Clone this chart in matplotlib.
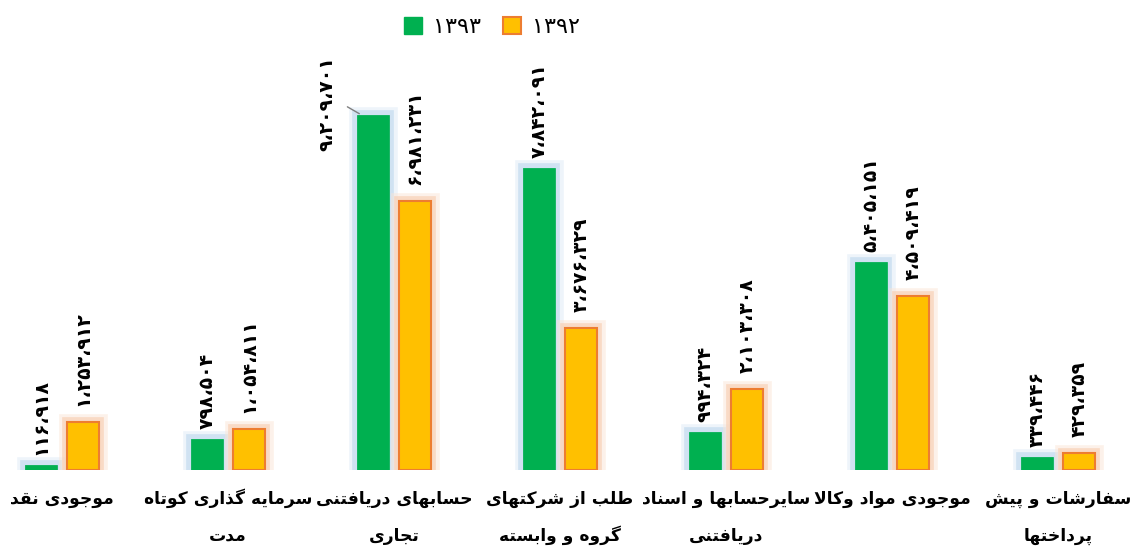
import matplotlib
matplotlib.use("Agg")
import matplotlib.pyplot as plt
import matplotlib.patheffects as pe
from matplotlib.patches import Patch
import numpy as np

# داده ها
categories = [
    "موجودی نقد",
    "سرمایه گذاری کوتاه\nمدت",
    "حسابهای دریافتنی\nتجاری",
    "طلب از شرکتهای\nگروه و وابسته",
    "سایرحسابها و اسناد\nدریافتنی",
    "موجودی مواد وکالا",
    "سفارشات و پیش\nپرداختها",
]
values_1393 = [116918, 798504, 9209701, 7842091, 994324, 5405151, 339446]
values_1392 = [1253912, 1054811, 6981231, 3676329, 2103308, 4509419, 429359]
series_names = ["۱۳۹۳", "۱۳۹۲"]

# شکل دادن حروف فارسی (matplotlib خودش اتصال حروف را انجام نمی دهد)
FORMS = {
    "ا": ("\uFE8D", "\uFE8E", None, None),
    "ب": ("\uFE8F", "\uFE90", "\uFE91", "\uFE92"),
    "پ": ("\uFB56", "\uFB57", "\uFB58", "\uFB59"),
    "ت": ("\uFE95", "\uFE96", "\uFE97", "\uFE98"),
    "ج": ("\uFE9D", "\uFE9E", "\uFE9F", "\uFEA0"),
    "ح": ("\uFEA1", "\uFEA2", "\uFEA3", "\uFEA4"),
    "خ": ("\uFEA5", "\uFEA6", "\uFEA7", "\uFEA8"),
    "د": ("\uFEA9", "\uFEAA", None, None),
    "ذ": ("\uFEAB", "\uFEAC", None, None),
    "ر": ("\uFEAD", "\uFEAE", None, None),
    "ز": ("\uFEAF", "\uFEB0", None, None),
    "س": ("\uFEB1", "\uFEB2", "\uFEB3", "\uFEB4"),
    "ش": ("\uFEB5", "\uFEB6", "\uFEB7", "\uFEB8"),
    "ط": ("\uFEC1", "\uFEC2", "\uFEC3", "\uFEC4"),
    "ف": ("\uFED1", "\uFED2", "\uFED3", "\uFED4"),
    "ق": ("\uFED5", "\uFED6", "\uFED7", "\uFED8"),
    "ک": ("\uFB8E", "\uFB8F", "\uFB90", "\uFB91"),
    "گ": ("\uFB92", "\uFB93", "\uFB94", "\uFB95"),
    "ل": ("\uFEDD", "\uFEDE", "\uFEDF", "\uFEE0"),
    "م": ("\uFEE1", "\uFEE2", "\uFEE3", "\uFEE4"),
    "ن": ("\uFEE5", "\uFEE6", "\uFEE7", "\uFEE8"),
    "و": ("\uFEED", "\uFEEE", None, None),
    "ه": ("\uFEE9", "\uFEEA", "\uFEEB", "\uFEEC"),
    "ی": ("\uFBFC", "\uFBFD", "\uFBFE", "\uFBFF"),
}


def joins_next(ch):
    return ch in FORMS and FORMS[ch][2] is not None


def shape_line(line):
    out = []
    i = 0
    n = len(line)
    while i < n:
        ch = line[i]
        if ch not in FORMS:
            out.append(ch)
            i += 1
            continue
        prev_join = i > 0 and joins_next(line[i - 1])
        if ch == "ل" and i + 1 < n and line[i + 1] == "ا":
            out.append("\uFEFC" if prev_join else "\uFEFB")
            i += 2
            continue
        next_join = joins_next(ch) and i + 1 < n and line[i + 1] in FORMS
        iso, fin, ini, med = FORMS[ch]
        if prev_join and next_join:
            out.append(med)
        elif prev_join:
            out.append(fin)
        elif next_join:
            out.append(ini)
        else:
            out.append(iso)
        i += 1
    return "".join(reversed(out))


def fa_num(v):
    digits = "۰۱۲۳۴۵۶۷۸۹"
    s = f"{v:,}".replace(",", "،")
    return "".join(digits[int(c)] if c.isdigit() else c for c in s)


plt.rcParams['font.family'] = ['DejaVu Sans']

green = "#00B050"
orange = "#FFC000"
orange_edge = "#ED7D31"

fig = plt.figure(figsize=(11.31, 5.52), dpi=100)
ax = fig.add_axes([0, 82 / 552, 1, 432 / 552])

x = np.arange(len(categories))
w = 0.195
off = 0.127

# هاله نرم دور میله ها
glow_g = [pe.Stroke(linewidth=12, foreground="#DEEBF7", alpha=0.5),
          pe.Stroke(linewidth=7, foreground="#BDD7EE", alpha=0.6), pe.Normal()]
glow_o = [pe.Stroke(linewidth=12, foreground="#FBE5D6", alpha=0.5),
          pe.Stroke(linewidth=7, foreground="#F8CBAD", alpha=0.6), pe.Normal()]

bars_g = ax.bar(x - off, values_1393, w, color=green, edgecolor=green, linewidth=0.5, zorder=3)
bars_o = ax.bar(x + off, values_1392, w, color=orange, edgecolor=orange_edge, linewidth=1.5, zorder=3)
for b in bars_g:
    b.set_path_effects(glow_g)
for b in bars_o:
    b.set_path_effects(glow_o)

ax.set_xlim(-62 / 166, (1131 - 62) / 166)
ax.set_ylim(0, 11.21e6)
ax.axis("off")

# برچسب مقادیر
for i, (vg, vo) in enumerate(zip(values_1393, values_1392)):
    if i == 2:
        ax.annotate(fa_num(vg), xy=(x[i] - off - w / 2 + 0.02, vg), xytext=(-33, -36),
                    textcoords="offset pixels", rotation=90, ha="center", va="bottom",
                    fontsize=13.5, fontweight="bold", zorder=4)
        ax.annotate("", xy=(x[i] - off - w / 2 + 0.03, vg), xytext=(-17, 9),
                    textcoords="offset pixels",
                    arrowprops=dict(arrowstyle="-", color="#7F7F7F", lw=1,
                                    connectionstyle="angle,angleA=0,angleB=-30,rad=0"))
    else:
        ax.annotate(fa_num(vg), xy=(x[i] - off, vg), xytext=(0, 10),
                    textcoords="offset pixels", rotation=90, ha="center", va="bottom",
                    fontsize=13.5, fontweight="bold", zorder=4)
    ax.annotate(fa_num(vo), xy=(x[i] + off, vo), xytext=(0, 16),
                textcoords="offset pixels", rotation=90, ha="center", va="bottom",
                fontsize=13.5, fontweight="bold", zorder=4)

# برچسب دسته ها (هر سطر جداگانه)
line_offsets = [-34, -71]
for i, c in enumerate(categories):
    for j, line in enumerate(c.split("\n")):
        ax.annotate(shape_line(line), xy=(x[i], 0), xytext=(0, line_offsets[j]),
                    textcoords="offset pixels", ha="center", va="baseline",
                    fontsize=12.3, fontweight="bold")

handles = [Patch(facecolor=green, edgecolor=green),
           Patch(facecolor=orange, edgecolor=orange_edge, linewidth=1.5)]
fig.legend(handles, series_names, loc="upper center", bbox_to_anchor=(0.435, 1.005),
           ncol=2, frameon=False, fontsize=16, handlelength=0.8, handleheight=0.8,
           columnspacing=1.0, handletextpad=0.5)

fig.savefig("out.png", dpi=100)
